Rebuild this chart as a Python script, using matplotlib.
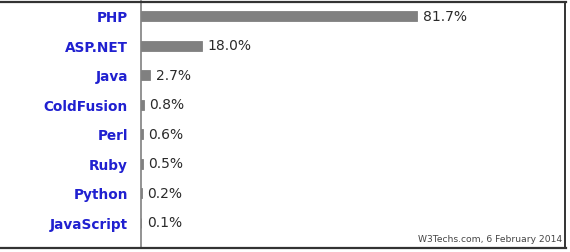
import matplotlib
matplotlib.use("Agg")
import matplotlib.pyplot as plt
from matplotlib.lines import Line2D

languages = ["PHP", "ASP.NET", "Java", "ColdFusion", "Perl", "Ruby", "Python", "JavaScript"]
shares = [81.7, 18.0, 2.7, 0.8, 0.6, 0.5, 0.2, 0.1]
value_labels = ["81.7%", "18.0%", "2.7%", "0.8%", "0.6%", "0.5%", "0.2%", "0.1%"]
footer = "W3Techs.com, 6 February 2014"

W, H = 570, 253
fig = plt.figure(figsize=(W / 100, H / 100), dpi=100)
fig.patch.set_facecolor("white")

ax_left, ax_right = 141, 565
ax_top, ax_bot = 2, 249
ax = fig.add_axes([ax_left / W, 1 - ax_bot / H, (ax_right - ax_left) / W, (ax_bot - ax_top) / H])

px_per_pct = 3.38
row0, row_step = 17, 29.5
ax.set_xlim(0, (ax_right - ax_left) / px_per_pct)
ax.set_ylim((ax_bot - row0) / row_step, (ax_top - row0) / row_step)

ypos = list(range(len(languages)))
ax.barh(ypos, shares, height=10 / row_step, color="#808080", edgecolor="#808080",
        linewidth=0.6, left=0)
for y, v, lab in zip(ypos, shares, value_labels):
    ax.annotate(lab, (v, y), xytext=(4, 0), textcoords="offset points",
                va="center", ha="left", fontsize=10, color="#2a2a2a",
                family="DejaVu Sans")

ax.set_yticks(ypos)
ax.set_yticklabels(languages, fontsize=9.8, fontweight="bold", color="#2020d0",
                   family="DejaVu Sans")
ax.tick_params(axis="y", length=0, pad=9.5)
ax.set_xticks([])
for s in ["top", "right", "bottom"]:
    ax.spines[s].set_visible(False)
ax.spines["left"].set_color("#808080")
ax.spines["left"].set_linewidth(1.2)

# frame borders
fig.add_artist(Line2D([0, 566 / W], [1 - 2.5 / H, 1 - 2.5 / H], color="#333333", lw=1.6))
fig.add_artist(Line2D([0, 566 / W], [1 - 248.5 / H, 1 - 248.5 / H], color="#333333", lw=1.6))
fig.add_artist(Line2D([565 / W, 565 / W], [1 - 2.5 / H, 1 - 248.5 / H], color="#333333", lw=1.4))

fig.text(562 / W, 1 - 240 / H, footer, ha="right", va="center", fontsize=6.6,
         color="#444444", family="DejaVu Sans")

fig.savefig("out.png", dpi=100, facecolor="white")
